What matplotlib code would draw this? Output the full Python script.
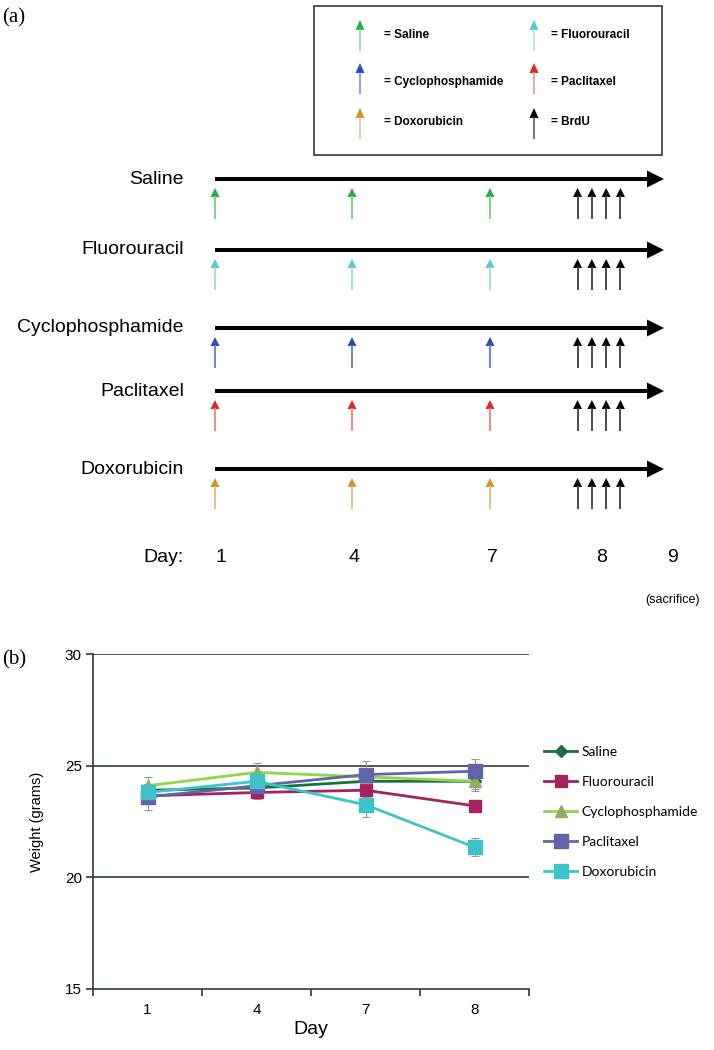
import matplotlib
matplotlib.use("Agg")
import matplotlib.pyplot as plt
from matplotlib.patches import FancyArrow, Rectangle
import numpy as np

plt.rcParams['font.family'] = ['Liberation Sans', 'DejaVu Sans']

# ---------------- data ----------------
groups = ['Saline', 'Fluorouracil', 'Cyclophosphamide', 'Paclitaxel', 'Doxorubicin']
treatment_days = [1, 4, 7]
brdu_day = 8
n_brdu = 4
sacrifice_day = 9
schedule_days = [1, 4, 7, 8, 9]

weight_days = ['1', '4', '7', '8']
saline = [23.9, 24.0, 24.3, 24.3]
fluorouracil = [23.65, 23.8, 23.9, 23.2]
cyclophosphamide = [24.1, 24.7, 24.5, 24.3]
paclitaxel = [23.6, 24.1, 24.6, 24.75]
doxorubicin = [23.8, 24.3, 23.25, 21.35]
saline_err = [0.3, 0.3, 0.3, 0.35]
fluorouracil_err = [0.3, 0.3, 0.3, 0.25]
cyclophosphamide_err = [0.4, 0.4, 0.35, 0.45]
paclitaxel_err = [0.6, 0.3, 0.6, 0.55]
doxorubicin_err = [0.4, 0.4, 0.55, 0.4]

# ---------------- styles / layout ----------------
arrow_colors = {'Saline': ('#22b04a', '#7fd48e'),
                'Fluorouracil': ('#5cc8d2', '#a4e0e6'),
                'Cyclophosphamide': ('#2a4db8', '#6f86d6'),
                'Paclitaxel': ('#e0282a', '#ee8a86'),
                'Doxorubicin': ('#d98f2a', '#e8bf80'),
                'BrdU': ('#000000', '#4a4a50')}

W, H = 714, 1050
fig = plt.figure(figsize=(W / 100, H / 100), dpi=100)

# Panel (a): schematic in pixel-like units
top_h = 640
ax_a = fig.add_axes([0, 1 - top_h / H, 1, top_h / H])
ax_a.set_xlim(0, W)
ax_a.set_ylim(top_h, 0)
ax_a.axis('off')

# schematic x position of each day (not to scale)
day_x = dict(zip(schedule_days, [215, 352, 490, 599, 673]))
label_x = dict(zip(schedule_days, [221, 354, 492, 602, 673]))
row_y = [179, 250, 328, 391, 469]
line_end = 664
brdu_step = 14.3


def arrow_up(ax, x, tip, length, color, shaft, lw=1.4, hw=9, hl=9):
    ax.plot([x, x], [tip + length, tip + hl - 1], color=shaft, lw=lw,
            solid_capstyle='butt')
    ax.add_patch(FancyArrow(x, tip + hl, 0, -hl, width=0.01, head_width=hw,
                            head_length=hl, length_includes_head=True,
                            color=color, lw=0))


for g, y in zip(groups, row_y):
    ax_a.text(184, y, g, ha='right', va='center', fontsize=14)
    x0 = day_x[treatment_days[0]]
    ax_a.add_patch(FancyArrow(x0, y, line_end - x0, 0, width=4, head_width=17,
                              head_length=17, length_includes_head=True,
                              color='black', lw=0))
    c, s = arrow_colors[g]
    for d in treatment_days:
        arrow_up(ax_a, day_x[d], y + 9, 31, c, s)
    for k in range(n_brdu):
        bx = day_x[brdu_day] + (k - (n_brdu - 1) / 2) * brdu_step
        arrow_up(ax_a, bx, y + 9, 31, arrow_colors['BrdU'][0],
                 arrow_colors['BrdU'][1])

ax_a.text(184, 557, 'Day:', ha='right', va='center', fontsize=14)
for d in schedule_days:
    ax_a.text(label_x[d], 557, str(d), ha='center', va='center', fontsize=14)
ax_a.text(label_x[sacrifice_day], 600, '(sacrifice)', ha='center',
          va='center', fontsize=9)

# legend box of panel (a)
ax_a.add_patch(Rectangle((314, 6), 348, 149, fill=False, ec='#3a3a3a', lw=1.2))
leg_items = [('Saline', 0, 0), ('Fluorouracil', 1, 0),
             ('Cyclophosphamide', 0, 1), ('Paclitaxel', 1, 1),
             ('Doxorubicin', 0, 2), ('BrdU', 1, 2)]
col_arrow_x = [360, 534]
col_text_x = [384, 551]
row_tip = [20, 63, 108]
row_text = [35, 82, 122]
for name, col, row in leg_items:
    c, s = arrow_colors[name]
    arrow_up(ax_a, col_arrow_x[col], row_tip[row], 31, c, s, lw=1.1, hw=9, hl=10)
    ax_a.text(col_text_x[col], row_text[row], '= ' + name, ha='left',
              va='center', fontsize=8.5, fontweight='bold')

fig.text(2 / W, 1 - 18 / H, '(a)', ha='left', va='center', fontsize=15,
         family='Liberation Serif')
fig.text(2 / W, 1 - 660 / H, '(b)', ha='left', va='center', fontsize=15,
         family='Liberation Serif')

# Panel (b): weights
x0p, x1p, y0p, y1p = 93, 529, 654, 989
ax = fig.add_axes([x0p / W, 1 - y1p / H, (x1p - x0p) / W, (y1p - y0p) / H])
xpos = np.arange(len(weight_days)) + 0.5

series = [
    ('Saline', saline, saline_err, '#17703d', 'D', 6, '#17703d'),
    ('Fluorouracil', fluorouracil, fluorouracil_err, '#a3225f', 's', 9, '#a3225f'),
    ('Cyclophosphamide', cyclophosphamide, cyclophosphamide_err, '#8ed64e', '^', 8, '#8fae62'),
    ('Paclitaxel', paclitaxel, paclitaxel_err, '#6363ac', 's', 10, '#6363ac'),
    ('Doxorubicin', doxorubicin, doxorubicin_err, '#3ec4c8', 's', 10, '#3ec4c8'),
]
for name, vals, err, col, mk, ms, mfc in series:
    ax.errorbar(xpos, vals, yerr=err, fmt='none', ecolor='#9a9a9a',
                elinewidth=0.8, capsize=3, capthick=0.8, zorder=2)
for i, (name, vals, err, col, mk, ms, mfc) in enumerate(series):
    ax.plot(xpos, vals, color=col, lw=2, marker=mk, markersize=ms,
            markerfacecolor=mfc, markeredgecolor=mfc, label=name, zorder=3 + i)

ax.set_xlim(0, len(weight_days))
ax.set_ylim(15, 30)
ax.set_yticks([15, 20, 25, 30])
ax.set_xticks(np.arange(len(weight_days) + 1))
ax.set_xticklabels([])
ax.set_xticks(xpos, minor=True)
ax.set_xticklabels(weight_days, minor=True)
ax.tick_params(axis='x', which='minor', length=0, labelsize=11, pad=10)
ax.tick_params(axis='x', which='major', length=5, width=1.2, color='#2d3b3b',
               direction='out')
ax.tick_params(axis='y', length=5, width=1.2, color='#2d3b3b', labelsize=11,
               pad=3)
for yv in [20, 25, 30]:
    ax.axhline(yv, color='#2d3b3b', lw=1.2, zorder=1)
for sp in ['top', 'right']:
    ax.spines[sp].set_visible(False)
for sp in ['left', 'bottom']:
    ax.spines[sp].set_color('#2d3b3b')
    ax.spines[sp].set_linewidth(1.2)
ax.set_xlabel('Day', fontsize=14, labelpad=3)
ax.set_ylabel('Weight (grams)', fontsize=10.5, labelpad=15)

leg = ax.legend(loc='upper left', bbox_to_anchor=(544 / W, 1 - 746 / H),
                bbox_transform=fig.transFigure, frameon=False,
                handlelength=2.4, handletextpad=0.3, labelspacing=1.3,
                borderpad=0, borderaxespad=0,
                prop={'family': 'Lato', 'size': 10})

fig.savefig('out.png', dpi=100)
